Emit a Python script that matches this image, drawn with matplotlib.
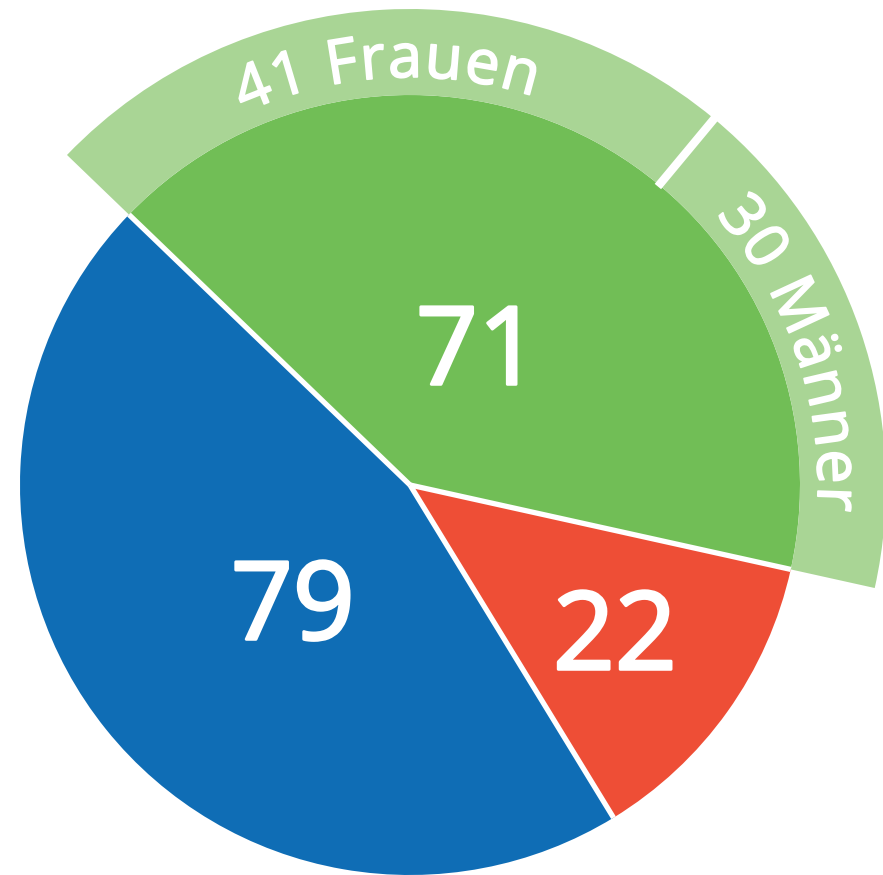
import numpy as np
import matplotlib
matplotlib.use('Agg')
import matplotlib.pyplot as plt
import matplotlib.patheffects as pe
from matplotlib.font_manager import FontProperties, findfont, get_font
from matplotlib.ft2font import LoadFlags

# data
values = [71, 79, 22]
colors = ['#71BE56', '#0F6DB5', '#EE4E36']
sub_labels = ['41 Frauen', '30 Männer']
sub_values = [41, 30]
sub_color = '#A9D595'

W, H = 883, 875
cx, cy = 410, 390
R = 390
R_OUT = 476
FONT = 'Open Sans'

fig = plt.figure(figsize=(W / 100, H / 100), dpi=100)
ax = fig.add_axes([0, 0, 1, 1])

wedges, _ = ax.pie(values, colors=colors, startangle=-12.5, counterclock=True,
                   radius=R, center=(cx, cy), wedgeprops=dict(linewidth=0))

total = sum(values)
# outer ring over the green slice, clockwise from its left edge
ring, _ = ax.pie([v / total for v in sub_values], normalize=False,
                 colors=[sub_color, sub_color], startangle=wedges[0].theta2,
                 counterclock=False, radius=R_OUT, center=(cx, cy),
                 wedgeprops=dict(width=R_OUT - R, linewidth=0))


def polar(r, ang):
    a = np.radians(ang)
    return cx + r * np.cos(a), cy + r * np.sin(a)


# white separators between slices
for w in wedges:
    x, y = polar(R, w.theta1)
    ax.plot([cx, x], [cy, y], color='white', lw=3.8, solid_capstyle='butt')
split = ring[0].theta1
x0, y0 = polar(R - 2, split)
x1, y1 = polar(R_OUT + 5, split)
ax.plot([x0, x1], [y0, y1], color='white', lw=6, solid_capstyle='butt')

# big numbers inside the slices (label centre, in pixels from top-left)
label_pos = [(478, 343), (293, 598), (615, 628)]
bold_num = [pe.withStroke(linewidth=2.2, foreground='white')]
for v, (px, py) in zip(values, label_pos):
    ax.text(px, H - py, str(v), ha='center', va='center_baseline', color='white',
            fontsize=78, family=FONT, path_effects=bold_num)


def advances(text, size_pt):
    font = get_font(findfont(FontProperties(family=FONT)))
    font.set_size(size_pt, 100)
    out = []
    for ch in text:
        g = font.load_char(ord(ch), flags=LoadFlags.NO_HINTING)
        out.append(g.linearHoriAdvance / 65536)
    return out


bold_ring = [pe.withStroke(linewidth=1.3, foreground='white')]


def curved_text(text, mid_angle, radius, size_pt, spacing=1.5):
    adv = [a + spacing for a in advances(text, size_pt)]
    total_w = sum(adv)
    start = mid_angle + np.degrees(total_w / 2 / radius)
    pos = 0
    for ch, a in zip(text, adv):
        ang = start - np.degrees((pos + a / 2) / radius)
        pos += a
        x, y = polar(radius, ang)
        ax.text(x, y, ch, rotation=ang - 90, rotation_mode='anchor',
                ha='center', va='baseline', color='white',
                fontsize=size_pt, family=FONT, path_effects=bold_ring)


for w, lab in zip(ring, sub_labels):
    mid = (w.theta1 + w.theta2) / 2
    curved_text(lab, mid, 408, 44)

ax.set_xlim(0, W)
ax.set_ylim(0, H)
ax.set_aspect('equal')
ax.set_axis_off()

fig.savefig('out.png', dpi=100, facecolor='white')
